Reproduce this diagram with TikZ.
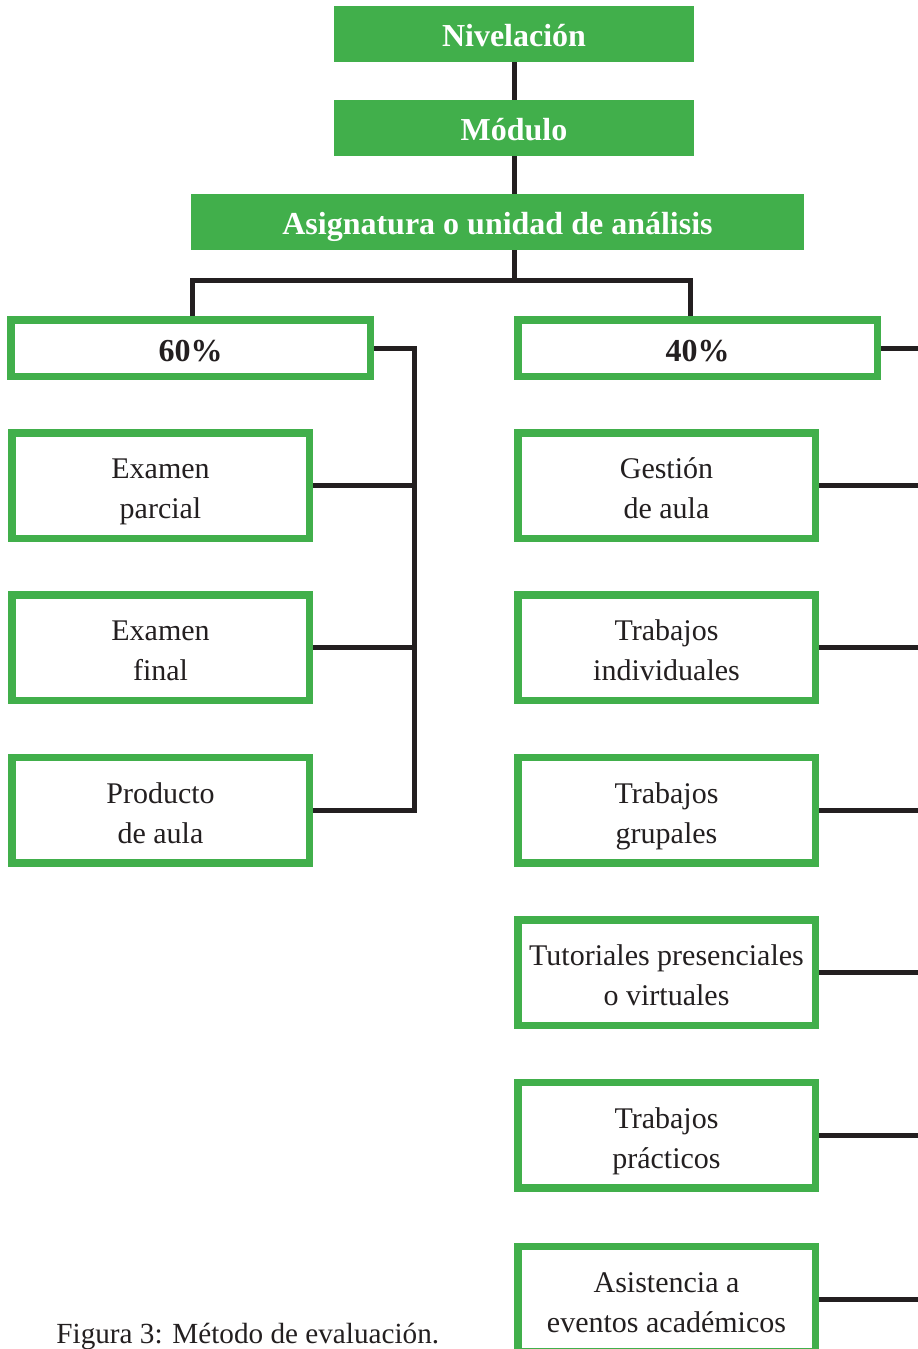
\documentclass[tikz,border=0pt]{standalone}
\usepackage{fontspec}
\setmainfont{Liberation Serif}
\definecolor{gr}{RGB}{65,175,75}
\definecolor{ln}{RGB}{35,31,32}
\newcommand\acph{\vphantom{óp}}
\begin{document}
\begin{tikzpicture}[x=0.5pt,y=-0.5pt,
  topbox/.style={fill=gr,draw=none,text=white,font=\fontsize{16}{19}\selectfont\bfseries,inner sep=0pt,minimum height=28pt,text height=12.8pt,text depth=0pt},
  pctbox/.style={draw=gr,line width=3.75pt,fill=white,font=\fontsize{16}{19}\selectfont\bfseries,inner sep=0pt,minimum width=179.75pt,minimum height=28.25pt,text=ln,text height=13.5pt,text depth=0pt},
  itembox/.style={draw=gr,line width=3.75pt,fill=white,inner sep=0pt,minimum width=148.75pt,minimum height=52.75pt},
  itemtext/.style={font=\fontsize{15}{20}\selectfont,align=center,inner sep=0pt,text=ln,yshift=-3pt},
  conn/.style={draw=ln,line width=2.5pt}]
\useasboundingbox (0,0) rectangle (917,1349);
\fill[white] (0,0) rectangle (917,1349);
% top chain
\node[topbox,minimum width=180pt] (niv) at (514,34) {Nivelación};
\node[topbox,minimum width=180pt] (mod) at (514,128) {Módulo};
\node[topbox,minimum width=306.5pt] (asig) at (497.5,222) {Asignatura o unidad de análisis};
\draw[conn] (niv.south) -- (mod.north);
\draw[conn] (mod.south) -- (mod.south |- asig.north);
% percentage boxes
\node[pctbox] (p60) at (190.5,348) {60\%};
\node[pctbox] (p40) at (697.5,348) {40\%};
\coordinate (bar) at (514,280);
\coordinate (jL) at (192,280);
\coordinate (jR) at (690,280);
\draw[conn] (bar |- asig.south) -- (bar);
\draw[conn,line join=miter] (jL |- p60.north) -- (jL) -- (jR) -- (jR |- p40.north);
% left column
\node[itembox] (ep) at (160.5,485.5) {};
\node[itembox] (ef) at (160.5,647.5) {};
\node[itembox] (pa) at (160.5,810) {};
\node[itemtext] (epT) at (ep) {\acph Examen\\\acph parcial};
\node[itemtext] (efT) at (ef) {\acph Examen\\\acph final};
\node[itemtext] (paT) at (pa) {\acph Producto\\\acph de aula};
\coordinate (vL) at (414,348);
\draw[conn,line join=miter] (p60.east) -- (vL) -- (vL |- pa.east) -- (pa.east);
\draw[conn] (ep.east) -- (vL |- ep.east);
\draw[conn] (ef.east) -- (vL |- ef.east);
% right column
\node[itembox] (ga) at (666.5,485.5) {};
\node[itembox] (ti) at (666.5,647.5) {};
\node[itembox] (tg) at (666.5,810) {};
\node[itembox] (tu) at (666.5,972.5) {};
\node[itembox] (tp) at (666.5,1135) {};
\node[itembox] (ae) at (666.5,1299) {};
\node[itemtext] (gaT) at (ga) {\acph Gestión\\\acph de aula};
\node[itemtext] (tiT) at (ti) {\acph Trabajos\\\acph individuales};
\node[itemtext] (tgT) at (tg) {\acph Trabajos\\\acph grupales};
\node[itemtext] (tuT) at (tu) {\acph Tutoriales presenciales\\\acph o virtuales};
\node[itemtext] (tpT) at (tp) {\acph Trabajos\\\acph prácticos};
\node[itemtext] (aeT) at (ae) {\acph Asistencia a\\\acph eventos académicos};
\coordinate (vR) at (921,348);
\draw[conn,line join=miter] (p40.east) -- (vR) -- (vR |- ae.east) -- (ae.east);
\foreach \n in {ga,ti,tg,tu,tp}{\draw[conn] (\n.east) -- (vR |- \n.east);}
% caption
\node[anchor=base west,inner sep=0pt,font=\fontsize{14.6}{17}\selectfont,text=ln] (cap) at (56,1343) {Figura 3: Método de evaluación.};
\end{tikzpicture}
\end{document}
